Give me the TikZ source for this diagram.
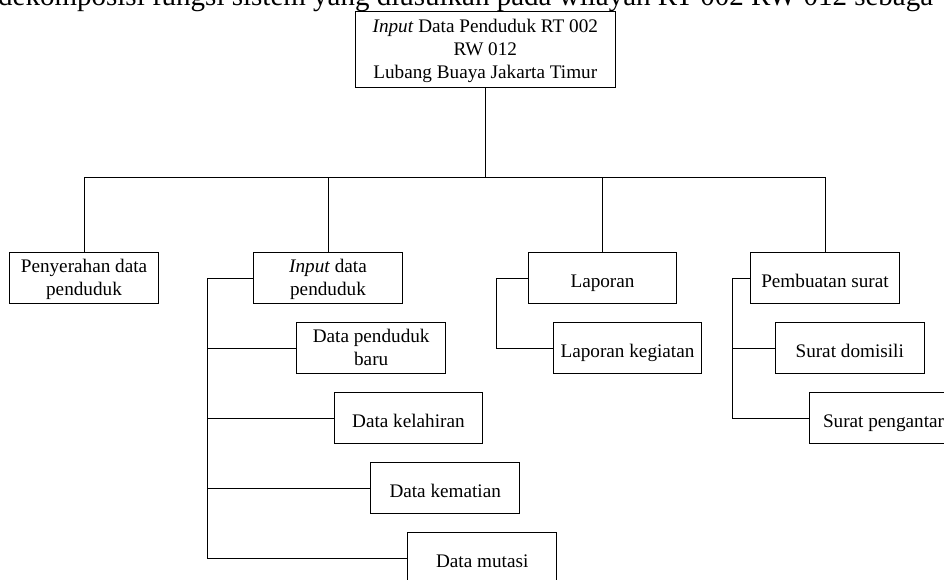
\documentclass[tikz,border=0pt]{standalone}
\usepackage{fontspec}
\setmainfont{Liberation Serif}
\newcommand{\boxstrutA}{\rule[-5.9pt]{0pt}{31pt}}
\newcommand{\boxstrutB}{\rule[-5.9pt]{0pt}{23pt}}
\begin{document}
\begin{tikzpicture}[x=1pt,y=-1pt,
  mbox/.style={draw,line width=0.9pt,minimum width=148.6pt,minimum height=50.6pt,inner sep=0pt,align=center,font=\fontsize{19.2}{23}\selectfont},
  box/.style={mbox,execute at begin node=\boxstrutA, execute at end node=\boxstrutB},
  link/.style={line width=0.9pt}]
\clip (0,0) rectangle (944,579);
\fill[white] (0,0) rectangle (944,579);
\node[anchor=base west,inner sep=0pt,font=\fontsize{29}{34}\selectfont] (cap) at (-2,5.2) {dekomposisi fungsi sistem yang diusulkan pada wilayah RT 002 RW 012 sebaga};
\node[mbox,minimum width=260pt,minimum height=75.6pt] (top) at (485.3,49.5) {\boxstrutB\textit{Input} Data Penduduk RT 002\\RW 012\\Lubang Buaya Jakarta Timur\boxstrutB};
\node[mbox] (pen) at (84,278) {\boxstrutB Penyerahan data\\penduduk\boxstrutB};
\node[mbox] (inp) at (328,278) {\boxstrutB\textit{Input} data\\penduduk\boxstrutB};
\node[box] (lap) at (602.5,278) {Laporan};
\node[box] (pem) at (825,278) {Pembuatan surat};
\node[mbox,minimum height=51pt] (dpb) at (371.2,348.2) {\boxstrutB Data penduduk\\baru\boxstrutB};
\node[box] (dkl) at (408.4,418) {Data kelahiran};
\node[box] (dkm) at (445.2,488) {Data kematian};
\node[box] (dmt) at (482.2,558) {Data mutasi};
\node[box,minimum height=51pt] (lk) at (627.5,348.2) {Laporan kegiatan};
\node[box,minimum height=51pt] (sd) at (849.7,348.2) {Surat domisili};
\node[box] (sp) at (883.5,418) {Surat pengantar};
\coordinate (bus) at (0,177);
\coordinate (ix) at (207.3,0);
\coordinate (lx) at (496,0);
\coordinate (px) at (732.3,0);
\draw[link] (top.south) -- (top.south |- bus);
\draw[link] (pen.north |- bus) -- (pem.north |- bus);
\foreach \n in {pen,inp,lap,pem} \draw[link] (\n.north |- bus) -- (\n.north);
\draw[link] (inp.west) -- (ix |- inp.west) -- (ix |- dmt.west) -- (dmt.west);
\foreach \n in {dpb,dkl,dkm} \draw[link] (ix |- \n.west) -- (\n.west);
\draw[link] (lap.west) -- (lx |- lap.west) -- (lx |- lk.west) -- (lk.west);
\draw[link] (pem.west) -- (px |- pem.west) -- (px |- sp.west) -- (sp.west);
\draw[link] (px |- sd.west) -- (sd.west);
\end{tikzpicture}
\end{document}
